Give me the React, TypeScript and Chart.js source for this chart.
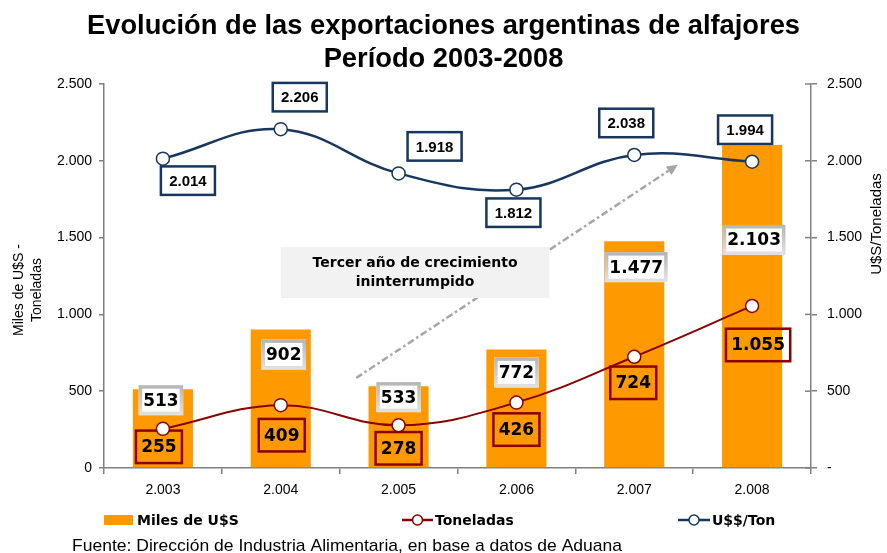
import React, { useEffect, useRef } from 'react';
import { Chart, registerables } from 'chart.js';

Chart.register(...registerables);

// ---------- data ----------
const categories = ['2.003', '2.004', '2.005', '2.006', '2.007', '2.008'];
const milesUSD = [513, 902, 533, 772, 1477, 2103];
const toneladas = [255, 409, 278, 426, 724, 1055];
const usdPorTon = [2014, 2206, 1918, 1812, 2038, 1994];
const axisMin = 0;
const axisMax = 2500;
const axisStep = 500;

const titleLines = ['Evolución de las exportaciones argentinas de alfajores', 'Período 2003-2008'];
const leftAxisTitle = ['Miles de U$S -', 'Toneladas'];
const rightAxisTitle = 'U$S/Toneladas';
const legendLabels = ['Miles de U$S', 'Toneladas', 'U$$/Ton'];
const footerText = 'Fuente: Dirección de Industria Alimentaria, en base a datos de Aduana';
const annotationLines = ['Tercer año de crecimiento', 'ininterrumpido'];

// label placement offsets (px) relative to bar top / line point
const barLabelDx = [-2, 3, 0, 0, 2, 2];
const barLabelDy = [11, 25, 11, 23, 26, 95];
const tonLabelDx = [-4, 1, 0, 0, -1, 6];
const tonLabelDy = [18, 30, 23, 27, 26, 39];
const usdLabelDx = [25, 19, 36, -3, -8, -7];
const usdLabelDy = [22, -32, -27, 23, -32, -32];

// annotation anchors in data space (category index, value)
const arrowFrom = [1.64, 586];
const arrowTo = [4.37, 1975];
const noteBoxFrom = [1.0, 1439];
const noteBoxTo = [3.28, 1107];

// ---------- styles ----------
const ORANGE = '#FF9900';
const RED = '#8B0000';
const BLUE = '#17375E';
const AXIS = '#808080';
const SANS = '"Liberation Sans", Arial, sans-serif';
const VERDANA = '"DejaVu Sans", Verdana, sans-serif';

const fmt = (v: number) => String(Math.round(v)).replace(/\B(?=(\d{3})+(?!\d))/g, '.');

function drawBox(
  ctx: CanvasRenderingContext2D,
  cx: number,
  cy: number,
  text: string,
  font: string,
  padW: number,
  h: number,
  fill: string | null,
  stroke: string | CanvasGradient,
  lw: number
) {
  ctx.font = font;
  const w = ctx.measureText(text).width + padW;
  const x = cx - w / 2;
  const y = cy - h / 2;
  if (fill) {
    ctx.fillStyle = fill;
    ctx.fillRect(x, y, w, h);
  }
  ctx.lineWidth = lw;
  ctx.strokeStyle = stroke;
  ctx.strokeRect(x + lw / 2, y + lw / 2, w - lw, h - lw);
  ctx.fillStyle = '#000';
  ctx.textAlign = 'center';
  ctx.textBaseline = 'middle';
  ctx.fillText(text, cx, cy + 1);
}

const overlayPlugin = {
  id: 'overlay',
  afterDatasetDraw(chart: any, args: any) {
    if (args.index !== 0) return;
    const ctx: CanvasRenderingContext2D = chart.ctx;
    ctx.save();
    // bar labels
    const barMeta = chart.getDatasetMeta(0);
    barMeta.data.forEach((el: any, i: number) => {
      const cx = el.x + barLabelDx[i];
      const cy = el.y + barLabelDy[i];
      const g = ctx.createLinearGradient(0, cy - 15, 0, cy + 15);
      g.addColorStop(0, '#b5b5b5');
      g.addColorStop(1, '#e2e2e2');
      drawBox(ctx, cx, cy, fmt(milesUSD[i]), `bold 17px ${VERDANA}`, 9, 30, '#ffffff', g, 3.5);
    });
    // toneladas labels
    const tonMeta = chart.getDatasetMeta(1);
    tonMeta.data.forEach((el: any, i: number) => {
      drawBox(ctx, el.x + tonLabelDx[i], el.y + tonLabelDy[i], fmt(toneladas[i]), `bold 17px ${VERDANA}`, 13, 35, null, RED, 2.5);
    });
    // usd/ton labels
    const usdMeta = chart.getDatasetMeta(2);
    usdMeta.data.forEach((el: any, i: number) => {
      drawBox(ctx, el.x + usdLabelDx[i], el.y + usdLabelDy[i], fmt(usdPorTon[i]), `bold 15px ${SANS}`, 19, 31, '#ffffff', BLUE, 2.5);
    });
    ctx.restore();
  },
  afterDraw(chart: any) {
    const ctx: CanvasRenderingContext2D = chart.ctx;
    const xs = chart.scales.x;
    const ys = chart.scales.y;
    const y1 = chart.scales.y1;
    const area = chart.chartArea;
    ctx.save();

    // inner tick marks on the right axis (they cross the axis)
    ctx.strokeStyle = AXIS;
    ctx.lineWidth = 1.5;
    y1.ticks.forEach((t: any) => {
      const py = y1.getPixelForValue(t.value);
      ctx.beginPath();
      ctx.moveTo(area.right - 6, py);
      ctx.lineTo(area.right, py);
      ctx.stroke();
    });

    // title
    ctx.fillStyle = '#000';
    ctx.font = `bold 28px ${SANS}`;
    const tw = ctx.measureText(titleLines[0]).width;
    const sx = 713 / tw;
    ctx.textAlign = 'center';
    ctx.textBaseline = 'alphabetic';
    [34, 67].forEach((by, i) => {
      ctx.save();
      ctx.translate(443.5, by);
      ctx.scale(sx, 1);
      ctx.fillText(titleLines[i], 0, 0);
      ctx.restore();
    });

    // axis titles
    ctx.font = `14px ${SANS}`;
    ctx.textBaseline = 'middle';
    ctx.textAlign = 'center';
    leftAxisTitle.forEach((line, i) => {
      ctx.save();
      ctx.translate(19 + i * 18, 290);
      ctx.rotate(-Math.PI / 2);
      ctx.fillText(line, 0, 0);
      ctx.restore();
    });
    ctx.font = `15px ${SANS}`;
    ctx.save();
    ctx.translate(877, 224);
    ctx.rotate(-Math.PI / 2);
    ctx.fillText(rightAxisTitle, 0, 0);
    ctx.restore();

    // arrow (dash-dot)
    const ax0 = xs.getPixelForValue(arrowFrom[0]);
    const ay0 = ys.getPixelForValue(arrowFrom[1]);
    const ax1 = xs.getPixelForValue(arrowTo[0]);
    const ay1 = ys.getPixelForValue(arrowTo[1]);
    const ang = Math.atan2(ay1 - ay0, ax1 - ax0);
    const headLen = 11;
    ctx.strokeStyle = '#a6a6a6';
    ctx.fillStyle = '#a6a6a6';
    ctx.lineWidth = 2.5;
    ctx.setLineDash([7, 3, 2.5, 3]);
    ctx.beginPath();
    ctx.moveTo(ax0, ay0);
    ctx.lineTo(ax1 - Math.cos(ang) * headLen, ay1 - Math.sin(ang) * headLen);
    ctx.stroke();
    ctx.setLineDash([]);
    ctx.beginPath();
    ctx.moveTo(ax1, ay1);
    ctx.lineTo(ax1 - Math.cos(ang) * headLen - Math.sin(ang) * 5, ay1 - Math.sin(ang) * headLen + Math.cos(ang) * 5);
    ctx.lineTo(ax1 - Math.cos(ang) * headLen + Math.sin(ang) * 5, ay1 - Math.sin(ang) * headLen - Math.cos(ang) * 5);
    ctx.closePath();
    ctx.fill();

    // annotation box
    const bx0 = xs.getPixelForValue(noteBoxFrom[0]);
    const by0 = ys.getPixelForValue(noteBoxFrom[1]);
    const bx1 = xs.getPixelForValue(noteBoxTo[0]);
    const by1 = ys.getPixelForValue(noteBoxTo[1]);
    ctx.fillStyle = '#f2f2f2';
    ctx.fillRect(bx0, by0, bx1 - bx0, by1 - by0);
    ctx.fillStyle = '#000';
    ctx.font = `bold 14px ${VERDANA}`;
    ctx.textAlign = 'center';
    ctx.textBaseline = 'middle';
    const bcx = (bx0 + bx1) / 2;
    const bcy = (by0 + by1) / 2;
    ctx.fillText(annotationLines[0], bcx, bcy - 9.5);
    ctx.fillText(annotationLines[1], bcx, bcy + 9.5);

    // legend
    const ly = 520;
    ctx.fillStyle = ORANGE;
    ctx.fillRect(104, ly - 5, 29, 10);
    ctx.fillStyle = '#000';
    ctx.font = `bold 14px ${VERDANA}`;
    ctx.textAlign = 'left';
    ctx.fillText(legendLabels[0], 137, ly + 1);
    const lineIcon = (x0: number, x1: number, color: string) => {
      ctx.strokeStyle = color;
      ctx.lineWidth = 2.5;
      ctx.beginPath();
      ctx.moveTo(x0, ly);
      ctx.lineTo(x1, ly);
      ctx.stroke();
      ctx.beginPath();
      ctx.arc((x0 + x1) / 2, ly, 5, 0, Math.PI * 2);
      ctx.fillStyle = '#fff';
      ctx.fill();
      ctx.lineWidth = 1.5;
      ctx.stroke();
    };
    lineIcon(402, 433, RED);
    ctx.fillStyle = '#000';
    ctx.fillText(legendLabels[1], 435, ly + 1);
    lineIcon(678, 710, BLUE);
    ctx.fillStyle = '#000';
    ctx.fillText(legendLabels[2], 712, ly + 1);

    // footer
    ctx.font = `17px ${SANS}`;
    ctx.textBaseline = 'alphabetic';
    const fw = ctx.measureText(footerText).width;
    ctx.save();
    ctx.translate(72, 551);
    ctx.scale(550 / fw, 1);
    ctx.fillText(footerText, 0, 0);
    ctx.restore();

    ctx.restore();
  },
};

export default function App() {
  const ref = useRef<HTMLCanvasElement | null>(null);

  useEffect(() => {
    if (!ref.current) return;
    const tickFont = { family: SANS, size: 14 };
    const chart = new Chart(ref.current, {
      data: {
        labels: categories,
        datasets: [
          {
            type: 'bar',
            label: legendLabels[0],
            data: milesUSD,
            backgroundColor: ORANGE,
            barPercentage: 0.51,
            categoryPercentage: 1,
            yAxisID: 'y',
            order: 3,
          },
          {
            type: 'line',
            label: legendLabels[1],
            data: toneladas,
            borderColor: RED,
            borderWidth: 2,
            tension: 0.4,
            pointRadius: 6.5,
            pointBackgroundColor: '#ffffff',
            pointBorderColor: RED,
            pointBorderWidth: 1.5,
            yAxisID: 'y',
            order: 2,
          },
          {
            type: 'line',
            label: legendLabels[2],
            data: usdPorTon,
            borderColor: BLUE,
            borderWidth: 2.5,
            tension: 0.4,
            pointRadius: 6.5,
            pointBackgroundColor: '#ffffff',
            pointBorderColor: BLUE,
            pointBorderWidth: 1.5,
            yAxisID: 'y1',
            order: 1,
          },
        ],
      } as any,
      options: {
        responsive: false,
        animation: false,
        layout: { padding: { top: 84, bottom: 55, left: 0, right: 0 } },
        plugins: {
          legend: { display: false },
          title: { display: false },
          tooltip: { enabled: false },
        },
        scales: {
          x: {
            type: 'category',
            grid: { offset: true, drawOnChartArea: false, tickLength: 6, color: AXIS, lineWidth: 1.5 },
            border: { color: AXIS, width: 1.5 },
            ticks: { font: tickFont, color: '#000', padding: 8, maxRotation: 0 },
            afterFit: (s: any) => {
              s.height = 30;
            },
          },
          y: {
            position: 'left',
            min: axisMin,
            max: axisMax,
            grid: { drawOnChartArea: false, tickLength: 5, color: AXIS, lineWidth: 1.5 },
            border: { color: AXIS, width: 1.5 },
            ticks: { stepSize: axisStep, font: tickFont, color: '#000', padding: 7, callback: (v: any) => fmt(Number(v)) },
            afterFit: (s: any) => {
              s.width = 104;
            },
          },
          y1: {
            position: 'right',
            min: axisMin,
            max: axisMax,
            grid: { drawOnChartArea: false, tickLength: 6, color: AXIS, lineWidth: 1.5 },
            border: { color: AXIS, width: 1.5 },
            ticks: {
              stepSize: axisStep,
              font: tickFont,
              color: '#000',
              padding: 10,
              callback: (v: any) => (Number(v) === 0 ? '-' : fmt(Number(v))),
            },
            afterFit: (s: any) => {
              s.width = 76;
            },
          },
        },
      } as any,
      plugins: [overlayPlugin as any],
    });
    return () => chart.destroy();
  }, []);

  return (
    <div style={{ position: 'absolute', left: 0, top: 0, width: 887, height: 553, background: '#fff' }}>
      <canvas ref={ref} width={887} height={553} />
    </div>
  );
}
